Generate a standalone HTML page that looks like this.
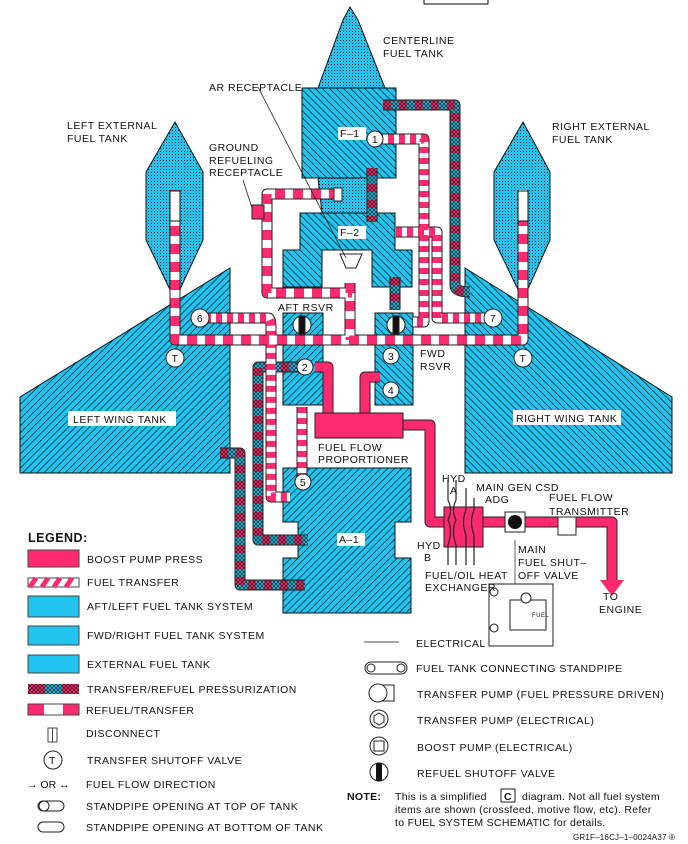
<!DOCTYPE html>
<html><head><meta charset="utf-8"><style>
html,body{margin:0;padding:0;background:#fff}
svg{display:block}
text{font-family:"Liberation Sans",sans-serif;font-size:10.5px;letter-spacing:0.5px;fill:#111}
</style></head><body>
<svg width="688" height="844" viewBox="0 0 688 844">
<defs>
<pattern id="hR" width="5" height="5" patternUnits="userSpaceOnUse" patternTransform="rotate(-45)"><rect width="5" height="5" fill="#22c3ee"/><line x1="0" y1="0" x2="0" y2="5" stroke="#0a1a22" stroke-width="1.4"/></pattern>
<pattern id="hL" width="5" height="5" patternUnits="userSpaceOnUse" patternTransform="rotate(45)"><rect width="5" height="5" fill="#22c3ee"/><line x1="0" y1="0" x2="0" y2="5" stroke="#0a1a22" stroke-width="1.4"/></pattern>
<pattern id="dot" width="3" height="3" patternUnits="userSpaceOnUse"><rect width="3" height="3" fill="#22c3ee"/><rect x="1" y="1" width="1" height="1" fill="#0a1a22"/></pattern>
<pattern id="xh" width="4" height="4" patternUnits="userSpaceOnUse"><path d="M0 0L4 4M4 0L0 4" stroke="#1a1a1a" stroke-width="0.7"/></pattern>
</defs>

<rect x="424" y="-2" width="64" height="6" fill="#fff" stroke="#000"/>

<g stroke="#111" stroke-width="1">
<polygon points="20,397 230,268 230,473 20,473" fill="url(#hL)"/>
<polygon points="465,268 672,397 672,473 465,473" fill="url(#hR)"/>
<polygon points="175,122 146,172 146,240 175,300 203,240 203,172" fill="url(#dot)"/>
<polygon points="523,122 494,172 494,240 523,300 550,240 550,172" fill="url(#dot)"/>
<polygon points="350,7 343,20 318,88 385,88 358,20" fill="url(#dot)"/>
<rect x="302" y="88" width="94" height="90" fill="url(#hR)"/>
<polygon points="318,178 372,178 372,213 322,213" fill="url(#dot)"/>
<polygon points="300,213 395,213 395,250 412,250 412,287 372,287 372,250 322,250 322,287 283,287 283,250 300,250" fill="url(#hR)"/>
<rect x="283" y="313" width="40" height="92" fill="url(#hL)"/>
<rect x="375" y="313" width="38" height="92" fill="url(#hR)"/>
<polygon points="283,468 411,468 411,522 395,522 395,558 411,558 411,613 283,613 283,558 298,558 298,522 283,522" fill="url(#hL)"/>
</g>

<g fill="none" stroke-linejoin="round" stroke-linecap="butt">
<g stroke="#222" stroke-width="11">
<path d="M175,190V340H523V190"/>
<path d="M383,105H455V285Q455,292 470,292"/>
<path d="M377,139H424V322H413"/>
<path d="M396,232H437V318H485"/>
<path d="M339,194H267V293H352"/>
<path d="M350,283V340"/>
<path d="M372,168V222"/><path d="M395,277V310"/>
<path d="M205,318H268Q271,318 271,328V497H290"/>
<path d="M302,407V480"/>
<path d="M305,367H258V540H308"/>
<path d="M220,453H240V585H305"/>
<path d="M315,367H328V413M380,377H365V413"/>
<path d="M403,425H430V522H612V582"/>
</g>
<g stroke="#ff2a6d" stroke-width="9">
<path d="M315,367H328V413M380,377H365V413"/>
<path d="M403,425H430V522H612V582"/>
</g>
<g stroke-width="9">
<path d="M383,105H455V285Q455,292 470,292 M372,168V222 M395,277V310 M305,367H258V540H308 M220,453H240V585H305" stroke="#22c3ee"/>
<path d="M383,105H455V285Q455,292 470,292 M372,168V222 M395,277V310 M305,367H258V540H308 M220,453H240V585H305" stroke="#ff2a6d" stroke-dasharray="8 8"/>
<path d="M383,105H455V285Q455,292 470,292 M372,168V222 M395,277V310 M305,367H258V540H308 M220,453H240V585H305" stroke="url(#xh)"/>
</g>
<g stroke-width="9">
<path d="M377,139H424V322H413 M396,232H437V318H485 M205,318H268Q271,318 271,328V497H290 M302,407V480" stroke="#fff"/>
<path d="M377,139H424V322H413 M396,232H437V318H485 M205,318H268Q271,318 271,328V497H290 M302,407V480" stroke="#ff2a6d" stroke-dasharray="6 5"/>
</g>
<g stroke-width="9">
<path d="M175,190V340H523V190 M339,194H267V293H352 M350,283V340" stroke="#fff"/>
<path d="M175,190V340H523V190 M339,194H267V293H352 M350,283V340" stroke="#ff2a6d" stroke-dasharray="10 8"/>
</g>
</g>
<polygon points="600,580 624,580 612,596" fill="#ff2a6d"/>
<rect x="315" y="413" width="88" height="25" fill="#ff2a6d" stroke="#222"/>
<rect x="444" y="507" width="39" height="40" fill="#ff2a6d" stroke="#222"/>
<g stroke="#222" fill="none" stroke-width="1.2">
<path d="M448,480V500Q453,510 448,520Q453,530 448,545V565M456,480V500Q451,510 456,520Q451,530 456,545V565"/>
<path d="M466,488V510Q461,522 466,535V565M474,498V510Q469,522 474,535V565"/>
</g>
<rect x="505" y="512" width="20" height="20" fill="#fff" stroke="#222"/>
<circle cx="515" cy="522" r="7" fill="#111"/>
<rect x="558" y="517" width="18" height="18" fill="#fff" stroke="#222"/>
<line x1="515" y1="540" x2="515" y2="590" stroke="#666"/>
<g stroke="#222" fill="#fff">
<rect x="489" y="584" width="64" height="62"/><rect x="510" y="600" width="36" height="30"/><circle cx="526" cy="598" r="5"/><circle cx="494" cy="592" r="4"/><circle cx="494" cy="628" r="4"/>
</g>
<text x="532" y="617" style="font-size:6px">FUEL</text>

<rect x="252" y="205" width="12" height="14" fill="#ff2a6d" stroke="#222"/>
<rect x="334" y="188" width="8" height="13" fill="#fff" stroke="#222"/>
<polygon points="340,254 362,254 356,268 346,268" fill="#fff" stroke="#222"/>
<line x1="258" y1="87" x2="346" y2="258" stroke="#222" stroke-width="0.8"/>
<line x1="243" y1="180" x2="252" y2="208" stroke="#222" stroke-width="0.8"/>
<g stroke="#111" fill="#fff"><rect x="170" y="191" width="10" height="30"/><rect x="518" y="191" width="10" height="30"/></g>

<g stroke="#222" fill="#fff">
<circle cx="302" cy="325" r="9"/><rect x="299" y="316" width="6" height="18" fill="#111"/>
<circle cx="396" cy="325" r="9"/><rect x="393" y="316" width="6" height="18" fill="#111"/>
<circle cx="175" cy="358" r="9"/><circle cx="523" cy="358" r="9"/>
<circle cx="375" cy="139" r="8"/><circle cx="200" cy="318" r="9"/><circle cx="493" cy="318" r="9"/>
<circle cx="305" cy="367" r="8"/><circle cx="391" cy="356" r="8"/><circle cx="391" cy="390" r="8"/><circle cx="303" cy="482" r="8"/>
</g>
<g style="font-size:10px;letter-spacing:0" text-anchor="middle">
<text x="175" y="362">T</text><text x="523" y="362">T</text>
<text x="375" y="143">1</text><text x="305" y="371">2</text><text x="391" y="360">3</text><text x="391" y="394">4</text><text x="303" y="486">5</text><text x="200" y="322">6</text><text x="493" y="322">7</text>
</g>

<g>
<text x="383" y="44">CENTERLINE</text><text x="383" y="57">FUEL TANK</text>
<text x="209" y="91">AR RECEPTACLE</text>
<text x="67" y="129">LEFT EXTERNAL</text><text x="67" y="142">FUEL TANK</text>
<text x="552" y="130">RIGHT EXTERNAL</text><text x="552" y="143">FUEL TANK</text>
<text x="209" y="151">GROUND</text><text x="209" y="164">REFUELING</text><text x="209" y="176">RECEPTACLE</text>
<rect x="338" y="127" width="28" height="13" fill="#fff"/><text x="340" y="137">F–1</text>
<rect x="338" y="226" width="28" height="13" fill="#fff"/><text x="340" y="236">F–2</text>
<text x="278" y="311">AFT RSVR</text>
<text x="420" y="357">FWD</text><text x="420" y="370">RSVR</text>
<rect x="68" y="411" width="108" height="15" fill="#fff"/><text x="73" y="423">LEFT WING TANK</text>
<rect x="513" y="410" width="108" height="15" fill="#fff"/><text x="516" y="422">RIGHT WING TANK</text>
<text x="318" y="451">FUEL FLOW</text><text x="318" y="463">PROPORTIONER</text>
<text x="442" y="482">HYD</text><text x="450" y="494">A</text>
<text x="476" y="491">MAIN GEN CSD</text><text x="485" y="503">ADG</text>
<text x="549" y="501">FUEL FLOW</text><text x="549" y="515">TRANSMITTER</text>
<text x="417" y="549">HYD</text><text x="424" y="561">B</text>
<text x="518" y="553">MAIN</text><text x="518" y="566">FUEL SHUT–</text><text x="518" y="579">OFF VALVE</text>
<text x="425" y="579">FUEL/OIL HEAT</text><text x="425" y="591">EXCHANGER</text>
<text x="603" y="600">TO</text><text x="599" y="613">ENGINE</text>
<rect x="337" y="533" width="28" height="13" fill="#fff"/><text x="339" y="543">A–1</text>
</g>

<g>
<text x="28" y="542" style="font-size:12.5px;font-weight:bold">LEGEND:</text>
<rect x="28" y="550" width="51" height="17" fill="#ff2a6d" stroke="#444"/><text x="87" y="563">BOOST PUMP PRESS</text>
<rect x="28" y="578" width="51" height="9" fill="#fff" stroke="#444"/>
<path d="M30,587L36,578M42,587L48,578M54,587L60,578M66,587L72,578" stroke="#ff2a6d" stroke-width="5"/><text x="87" y="586">FUEL TRANSFER</text>
<rect x="28" y="596" width="51" height="21" fill="#22c3ee" stroke="#444"/><text x="87" y="610">AFT/LEFT FUEL TANK SYSTEM</text>
<rect x="28" y="626" width="51" height="19" fill="#22c3ee" stroke="#444"/><text x="87" y="639">FWD/RIGHT FUEL TANK SYSTEM</text>
<rect x="28" y="655" width="51" height="18" fill="#22c3ee" stroke="#444"/><text x="87" y="668">EXTERNAL FUEL TANK</text>
<rect x="28" y="684" width="17" height="10" fill="#ff2a6d"/><rect x="45" y="684" width="17" height="10" fill="#22c3ee"/><rect x="62" y="684" width="17" height="10" fill="#ff2a6d"/><rect x="28" y="684" width="51" height="10" fill="url(#xh)"/>
<text x="87" y="693">TRANSFER/REFUEL PRESSURIZATION</text>
<rect x="28" y="704" width="16" height="11" fill="#ff2a6d"/><rect x="44" y="704" width="19" height="11" fill="#fff"/><rect x="63" y="704" width="16" height="11" fill="#ff2a6d"/><rect x="28" y="704" width="51" height="11" fill="none" stroke="#444"/>
<text x="86" y="714">REFUEL/TRANSFER</text>
<rect x="48" y="728" width="9" height="14" fill="#fff" stroke="#444"/><line x1="52.5" y1="728" x2="52.5" y2="742" stroke="#444"/>
<text x="86" y="737">DISCONNECT</text>
<circle cx="53" cy="760" r="9" fill="#fff" stroke="#222"/><text x="49" y="764" style="letter-spacing:0">T</text>
<text x="87" y="764">TRANSFER SHUTOFF VALVE</text>
<text x="27" y="788" style="letter-spacing:0">→ OR ↔</text><text x="86" y="788">FUEL FLOW DIRECTION</text>
<rect x="38" y="801" width="26" height="10" rx="5" fill="#fff" stroke="#222"/><circle cx="44" cy="806" r="5" fill="#fff" stroke="#222"/>
<text x="86" y="810">STANDPIPE OPENING AT TOP OF TANK</text>
<rect x="38" y="822" width="26" height="10" rx="5" fill="#fff" stroke="#222"/>
<text x="86" y="831">STANDPIPE OPENING AT BOTTOM OF TANK</text>
</g>

<g>
<line x1="364" y1="642" x2="399" y2="642" stroke="#888" stroke-width="1.5"/><text x="416" y="647">ELECTRICAL</text>
<rect x="365" y="662" width="42" height="12" rx="6" fill="#fff" stroke="#222"/><circle cx="371" cy="668" r="4" fill="none" stroke="#222"/><circle cx="401" cy="668" r="4" fill="none" stroke="#222"/>
<text x="416" y="672">FUEL TANK CONNECTING STANDPIPE</text>
<rect x="376" y="685" width="18" height="16" fill="#fff" stroke="#222"/><circle cx="378" cy="693" r="9" fill="#fff" stroke="#222"/>
<text x="417" y="698">TRANSFER PUMP (FUEL PRESSURE DRIVEN)</text>
<circle cx="379" cy="719" r="9" fill="#fff" stroke="#222"/><polygon points="379,713 384,716 384,722 379,725 374,722 374,716" fill="none" stroke="#222"/>
<text x="417" y="724">TRANSFER PUMP (ELECTRICAL)</text>
<circle cx="379" cy="746" r="9" fill="#fff" stroke="#222"/><rect x="374" y="741" width="10" height="10" fill="none" stroke="#222"/>
<text x="417" y="751">BOOST PUMP (ELECTRICAL)</text>
<circle cx="379" cy="772" r="9" fill="#fff" stroke="#222"/><rect x="376" y="763" width="6" height="18" fill="#111"/>
<text x="417" y="777">REFUEL SHUTOFF VALVE</text>
<text x="347" y="800" style="font-weight:bold;letter-spacing:0.3px">NOTE:</text>
<text x="395" y="800" style="letter-spacing:0.3px">This is a simplified</text>
<rect x="501" y="789" width="14" height="13" fill="#fff" stroke="#222"/><text x="504" y="800" style="font-weight:bold;letter-spacing:0">C</text>
<text x="522" y="800" style="letter-spacing:0.3px">diagram. Not all fuel system</text>
<text x="395" y="813" style="letter-spacing:0.3px">items are shown (crossfeed, motive flow, etc). Refer</text>
<text x="395" y="826" style="letter-spacing:0.3px">to FUEL SYSTEM SCHEMATIC for details.</text>
<text x="573" y="840" style="font-size:8px;letter-spacing:0.2px">GR1F–16CJ–1–0024A37 ®</text>
</g>
</svg>
</body></html>
